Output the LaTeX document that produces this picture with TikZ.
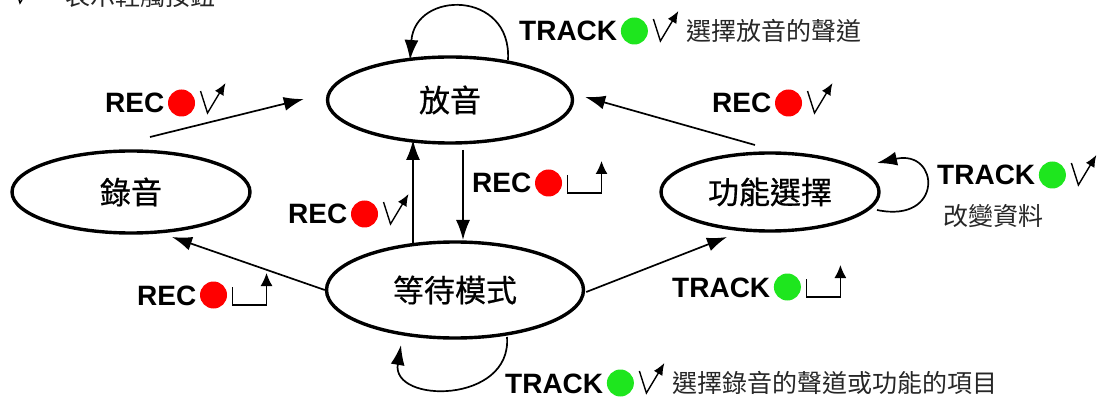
\documentclass[tikz,border=0pt]{standalone}
\usepackage{fontspec}
\newfontfamily\keyfont{Liberation Sans}
\newfontfamily\cjk{Noto Sans CJK TC}
\newfontfamily\cjkstate[FakeBold=0.6]{Noto Sans CJK TC}
\usetikzlibrary{shapes.geometric,arrows.meta}
\definecolor{recred}{RGB}{255,0,0}
\definecolor{trackgreen}{RGB}{30,230,30}
\tikzset{
  state/.style={ellipse,draw,line width=3.4pt,inner sep=0pt,font=\cjkstate\fontsize{31}{31}\selectfont},
  trans/.style={line width=1.7pt,-{Latex[length=20pt,width=14pt]}},
  key/.style={inner sep=0pt,anchor=base west,font=\keyfont\bfseries\fontsize{28}{28}\selectfont},
  note/.style={inner sep=0pt,anchor=west,text=black!85,font=\cjk\fontsize{25}{25}\selectfont},
  tap/.pic={\draw[line width=1.4pt,-{Latex[length=12pt,width=10pt]}] (-7,22) -- (0,0) -- (18,30);},
  hold/.pic={\draw[line width=1.4pt,line join=miter,-{Latex[length=13pt,width=12pt]}] (0,18) -- (0,0) -- (34,0) -- (34,32);},
}

\begin{document}
\begin{tikzpicture}[x=1pt,y=1pt]
  \useasboundingbox (0,0) rectangle (1099,399);
  \clip (0,0) rectangle (1099,399);

  % legend, cut by the top edge
  \pic at (20,396) {tap};
  \node[note] (legend) at (65,403) {表示輕觸按鈕};

  % states
  \node[state,minimum width=245pt,minimum height=86pt] (play) at (450,299) {放音};
  \node[state,minimum width=238pt,minimum height=82pt] (rec)  at (131,207) {錄音};
  \node[state,minimum width=218pt,minimum height=78pt] (func) at (770,207) {功能選擇};
  \node[state,minimum width=257pt,minimum height=96pt] (wait) at (455,109) {等待模式};

  % transitions
  \draw[trans] ([shift={(19,55)}]rec.center) -- ([shift={(-22,1)}]play.west);
  \draw[trans] ([shift={(13,-50)}]play.center) -- ([shift={(8,50)}]wait.center);
  \draw[trans] ([shift={(-42,47)}]wait.center) -- ([shift={(-37,-40)}]play.center);
  \draw[trans] ([shift={(0,0)}]wait.west) -- ([shift={(41,-45)}]rec.center);
  \draw[trans] ([shift={(1,-2)}]wait.east) -- ([shift={(-43,-45)}]func.center);
  \draw[trans] ([shift={(-15,47)}]func.center) -- ([shift={(11,3)}]play.east);

  % loops
  \draw[trans] ([shift={(58,40)}]play.center) .. controls +(4,70) and +(5,70) .. ([shift={(-40,40)}]play.center);
  \draw[trans] ([shift={(107,-18)}]func.center) .. controls +(67,-14) and +(63,14) .. ([shift={(107,29)}]func.center);
  \draw[trans] ([shift={(52,-47)}]wait.center) .. controls +(5,-67) and +(-10,-59) .. ([shift={(-54,-55)}]wait.center);

  % labels
  \node[key] (recA) at (105,286) {REC};
  \fill[recred] ([shift={(17,10)}]recA.base east) circle (13.5);
  \pic at ([xshift=43]recA.base east) {tap};

  \node[key] (trackA) at (519,358) {TRACK};
  \fill[trackgreen] ([shift={(17,10)}]trackA.base east) circle (13.5);
  \pic at ([xshift=43]trackA.base east) {tap};
  \node[note] (noteA) at ([shift={(69,10)}]trackA.base east) {選擇放音的聲道};

  \node[key] (recB) at (472,206) {REC};
  \fill[recred] ([shift={(17,10)}]recB.base east) circle (13.5);
  \pic at ([xshift=36]recB.base east) {hold};

  \node[key] (recC) at (288,175) {REC};
  \fill[recred] ([shift={(17,10)}]recC.base east) circle (13.5);
  \pic at ([xshift=43]recC.base east) {tap};

  \node[key] (recD) at (137,94) {REC};
  \fill[recred] ([shift={(17,10)}]recD.base east) circle (13.5);
  \pic at ([xshift=36]recD.base east) {hold};

  \node[key] (trackB) at (672,102) {TRACK};
  \fill[trackgreen] ([shift={(17,10)}]trackB.base east) circle (13.5);
  \pic at ([xshift=36]trackB.base east) {hold};

  \node[key] (recE) at (712,286) {REC};
  \fill[recred] ([shift={(17,10)}]recE.base east) circle (13.5);
  \pic at ([xshift=43]recE.base east) {tap};

  \node[key] (trackC) at (937,214) {TRACK};
  \fill[trackgreen] ([shift={(17,10)}]trackC.base east) circle (13.5);
  \pic at ([xshift=43]trackC.base east) {tap};
  \node[note] (noteC) at (943,183) {改變資料};

  \node[key] (trackD) at (505,6) {TRACK};
  \fill[trackgreen] ([shift={(17,10)}]trackD.base east) circle (13.5);
  \pic at ([xshift=43]trackD.base east) {tap};
  \node[note] (noteD) at ([shift={(69,10)}]trackD.base east) {選擇錄音的聲道或功能的項目};
\end{tikzpicture}
\end{document}
